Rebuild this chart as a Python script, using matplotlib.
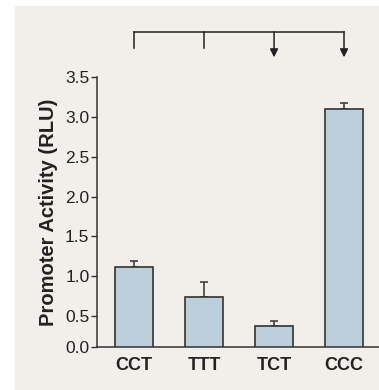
import matplotlib
matplotlib.use("Agg")
import matplotlib.pyplot as plt
from matplotlib.patches import Rectangle

# data
genotypes = ["CCT", "TTT", "TCT", "CCC"]
activity = [1.12, 0.735, 0.375, 3.105]
err_up = [0.07, 0.19, 0.065, 0.075]
ytick_vals = [0.11, 0.5, 1.0, 1.5, 2.0, 2.5, 3.0, 3.5]   # original puts "0.0" at axis floor
ytick_labels = ["0.0", "0.5", "1.0", "1.5", "2.0", "2.5", "3.0", "3.5"]
arrow_to = [2, 3]          # bracket: arrows point to TCT and CCC

BG = "#f2eee9"
BAR = "#bccfda"
INK = "#333333"
TXT = "#222222"

plt.rcParams["font.family"] = ["Liberation Sans", "DejaVu Sans"]

fig = plt.figure(figsize=(3.79, 3.90), dpi=100)
fig.patch.set_facecolor("white")
fig.patches.append(Rectangle((15 / 379, 0), 1 - 15 / 379, 384 / 390,
                             transform=fig.transFigure, facecolor=BG,
                             edgecolor="none", zorder=-10))

ax = fig.add_axes([0.256, 0.110, 0.744, 0.692])
ax.set_facecolor("none")

x = list(range(len(genotypes)))
ax.bar(x, activity, width=0.543, color=BAR, edgecolor=INK, linewidth=1.2, zorder=2)
ax.errorbar(x, activity, yerr=[[0] * len(x), err_up], fmt="none", ecolor=INK,
            elinewidth=1.1, capsize=2.8, capthick=1.1, zorder=1)

ax.set_xlim(-0.53, 3.5)
ax.set_ylim(ytick_vals[0], 3.5)
ax.set_yticks(ytick_vals)
ax.set_yticklabels(ytick_labels, fontsize=12.5, color=TXT)
ax.set_xticks(x)
ax.set_xticklabels(genotypes, fontsize=13, fontweight="bold", color=TXT)
ax.tick_params(axis="x", length=0, pad=7)
ax.tick_params(axis="y", length=4.5, width=1, color=INK, pad=1)
for s in ("top", "right"):
    ax.spines[s].set_visible(False)
for s in ("left", "bottom"):
    ax.spines[s].set_color(INK)
    ax.spines[s].set_linewidth(1.1)
ax.set_ylabel("Promoter Activity (RLU)", fontsize=14.5, fontweight="bold",
              color=TXT, labelpad=5)

# bracket above the bars
top, drop = 4.07, 3.87
ax.plot([x[0], x[-1]], [top, top], color=TXT, lw=1.1, clip_on=False)
for i in x:
    if i in arrow_to:
        ax.annotate("", xy=(i, 3.75), xytext=(i, top), annotation_clip=False,
                    arrowprops=dict(arrowstyle="-|>", color=TXT, lw=1.1,
                                    mutation_scale=12, shrinkA=0, shrinkB=0))
    else:
        ax.plot([i, i], [top, drop], color=TXT, lw=1.1, clip_on=False)

fig.savefig("out.png", dpi=100, facecolor="white")
